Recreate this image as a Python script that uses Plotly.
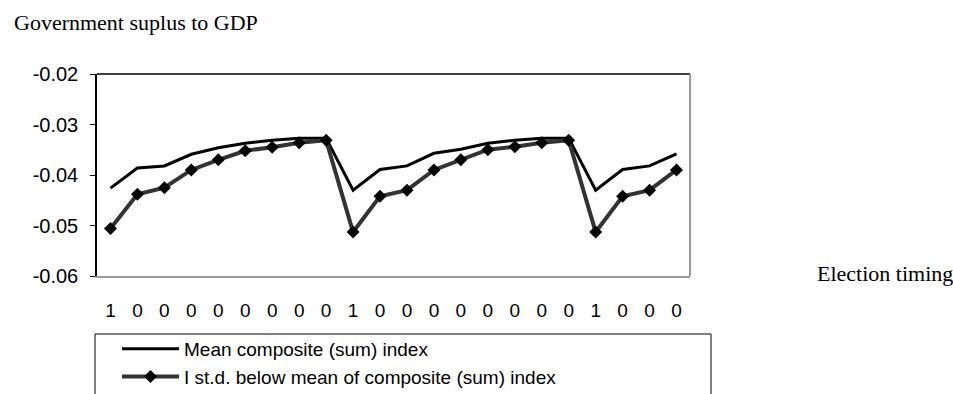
import plotly.graph_objects as go

# ---- data ----
election_timing = ["1", "0", "0", "0", "0", "0", "0", "0", "0",
                   "1", "0", "0", "0", "0", "0", "0", "0", "0",
                   "1", "0", "0", "0"]
mean_index = [-0.0426, -0.0386, -0.0382, -0.0359, -0.0346, -0.0337, -0.0331, -0.0327, -0.0327,
              -0.0430, -0.0389, -0.0382, -0.0357, -0.0349, -0.0337, -0.0331, -0.0327, -0.0327,
              -0.0430, -0.0389, -0.0382, -0.0358]
std_below = [-0.0506, -0.0438, -0.0425, -0.0390, -0.0370, -0.0352, -0.0345, -0.0336, -0.0331,
             -0.0513, -0.0442, -0.0430, -0.0390, -0.0370, -0.0350, -0.0344, -0.0336, -0.0331,
             -0.0513, -0.0442, -0.0430, -0.0390]
y_tick_vals = [-0.06, -0.05, -0.04, -0.03, -0.02]
y_tick_text = ["-0.06", "-0.05", "-0.04", "-0.03", "-0.02"]

x = list(range(len(election_timing)))

fig = go.Figure()
fig.add_trace(go.Scatter(
    x=x, y=mean_index, mode="lines", name="Mean composite (sum) index",
    line=dict(color="#000000", width=3), cliponaxis=False))
fig.add_trace(go.Scatter(
    x=x, y=std_below, mode="lines+markers", name="I st.d. below mean of composite (sum) index",
    line=dict(color="#333333", width=4),
    marker=dict(symbol="diamond", color="#000000", size=10, line=dict(width=0)),
    cliponaxis=False))

W, H = 953, 394
L, R, T, B = 97, 690, 74, 276
pw, ph = R - L, B - T

def px(xp):
    return (xp - L) / pw

def py(yp):
    return (B - yp) / ph

fig.update_layout(
    width=W, height=H,
    margin=dict(l=L, r=W - R, t=T, b=H - B, pad=0, autoexpand=False),
    paper_bgcolor="white", plot_bgcolor="white",
    font=dict(family="Liberation Sans, Arial", size=19, color="#000000"),
    showlegend=True,
    legend=dict(x=px(117), y=py(330), xanchor="left", yanchor="top",
                bgcolor="rgba(0,0,0,0)", borderwidth=0,
                font=dict(family="Liberation Sans, Arial", size=19, color="#000000"),
                tracegroupgap=0, itemwidth=57),
    xaxis=dict(range=[-0.5, len(x) - 0.5], tickmode="array", tickvals=x,
               ticktext=election_timing, ticks="", showgrid=False, zeroline=False,
               showline=True, linecolor="#999999", linewidth=2,
               ticklabelstandoff=16, automargin=False,
               tickfont=dict(family="Liberation Sans, Arial", size=19)),
    yaxis=dict(range=[-0.06, -0.02], tickmode="array", tickvals=y_tick_vals,
               ticktext=y_tick_text, ticks="outside", ticklen=5, tickcolor="#000000",
               showgrid=False, zeroline=False, showline=True, linecolor="#000000",
               linewidth=1.5, ticklabelstandoff=8, automargin=False,
               tickfont=dict(family="Liberation Sans, Arial", size=20)),
    shapes=[
        dict(type="line", xref="paper", yref="paper", x0=0, x1=1, y0=1, y1=1,
             line=dict(color="#000000", width=1.5)),
        dict(type="line", xref="paper", yref="paper", x0=1, x1=1, y0=0, y1=1,
             line=dict(color="#999999", width=2)),
        dict(type="rect", xref="paper", yref="paper", x0=px(95), x1=px(711),
             y0=py(420), y1=py(334), line=dict(color="#000000", width=1)),
    ],
    annotations=[
        dict(text="Government suplus to GDP", xref="paper", yref="paper",
             x=px(12), y=py(22), xanchor="left", yanchor="middle", showarrow=False,
             font=dict(family="Liberation Serif, Times New Roman", size=22, color="#000000")),
        dict(text="Election timing", xref="paper", yref="paper",
             x=px(815), y=py(273), xanchor="left", yanchor="middle", showarrow=False,
             font=dict(family="Liberation Serif, Times New Roman", size=22, color="#000000")),
    ],
)

fig.write_html("out.html")
